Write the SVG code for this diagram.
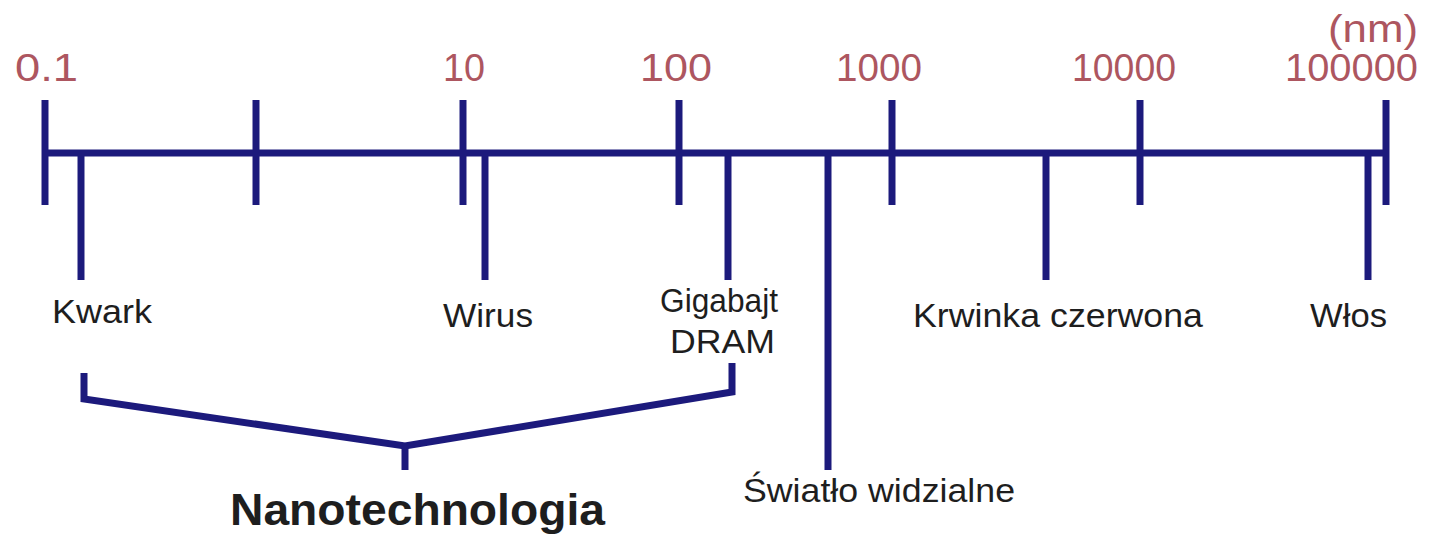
<svg xmlns="http://www.w3.org/2000/svg" width="1429" height="535" viewBox="0 0 1429 535">
  <style>
    .bar { stroke: #1c1a7c; stroke-width: 7; stroke-linecap: butt; fill: none; }
    .brace { stroke: #1c1a7c; stroke-width: 7; stroke-linejoin: miter; fill: none; }
    .num { font-family: "Liberation Sans", Arial, sans-serif; font-size: 39px; fill: #ad5660; }
    .lbl { font-family: "Liberation Sans", Arial, sans-serif; font-size: 34px; fill: #1e1e1e; }
    .big { font-family: "Liberation Sans", Arial, sans-serif; font-size: 45px; font-weight: bold; fill: #1e1e1e; }
  </style>
  <rect width="1429" height="535" fill="#ffffff"/>

  <!-- scale axis with decade ticks and item drops -->
  <g id="connectors">
    <line class="bar" x1="45" y1="153" x2="1386" y2="153"/>
    <line class="bar" x1="45" y1="100" x2="45" y2="205"/>
    <line class="bar" x1="256" y1="100" x2="256" y2="205"/>
    <line class="bar" x1="463" y1="100" x2="463" y2="205"/>
    <line class="bar" x1="679" y1="100" x2="679" y2="205"/>
    <line class="bar" x1="892" y1="100" x2="892" y2="205"/>
    <line class="bar" x1="1140" y1="100" x2="1140" y2="205"/>
    <line class="bar" x1="1386" y1="100" x2="1386" y2="205"/>
    <line class="bar" x1="81" y1="153" x2="81" y2="280"/>
    <line class="bar" x1="485" y1="153" x2="485" y2="280"/>
    <line class="bar" x1="728" y1="153" x2="728" y2="280"/>
    <line class="bar" x1="828" y1="153" x2="828" y2="470"/>
    <line class="bar" x1="1046" y1="153" x2="1046" y2="280"/>
    <line class="bar" x1="1368" y1="153" x2="1368" y2="280"/>
    <polyline class="brace" points="84,373 84,399 405,446 732,392 732,363"/>
    <line class="bar" x1="405" y1="446" x2="405" y2="470"/>
  </g>

  <g id="scale-values">
    <text class="num" x="15" y="81" textLength="63" lengthAdjust="spacingAndGlyphs">0.1</text>
    <text class="num" x="443" y="81" textLength="42" lengthAdjust="spacingAndGlyphs">10</text>
    <text class="num" x="640" y="81" textLength="72" lengthAdjust="spacingAndGlyphs">100</text>
    <text class="num" x="836" y="81" textLength="86" lengthAdjust="spacingAndGlyphs">1000</text>
    <text class="num" x="1072" y="81" textLength="104" lengthAdjust="spacingAndGlyphs">10000</text>
    <text class="num" x="1285" y="81" textLength="133" lengthAdjust="spacingAndGlyphs">100000</text>
    <text class="num" x="1328" y="42" textLength="90" lengthAdjust="spacingAndGlyphs">(nm)</text>
  </g>

  <g id="kwark"><text class="lbl" x="52" y="323" textLength="100" lengthAdjust="spacingAndGlyphs">Kwark</text></g>
  <g id="wirus"><text class="lbl" x="443" y="327" textLength="90" lengthAdjust="spacingAndGlyphs">Wirus</text></g>
  <g id="gigabajt-dram">
    <text class="lbl" x="660" y="312" textLength="118" lengthAdjust="spacingAndGlyphs">Gigabajt</text>
    <text class="lbl" x="670" y="353" textLength="105" lengthAdjust="spacingAndGlyphs">DRAM</text>
  </g>
  <g id="krwinka"><text class="lbl" x="913" y="327" textLength="290" lengthAdjust="spacingAndGlyphs">Krwinka czerwona</text></g>
  <g id="wlos"><text class="lbl" x="1310" y="327" textLength="77" lengthAdjust="spacingAndGlyphs">Włos</text></g>
  <g id="swiatlo"><text class="lbl" x="743" y="502" textLength="272" lengthAdjust="spacingAndGlyphs">Światło widzialne</text></g>
  <g id="nanotechnologia"><text class="big" x="230" y="525" textLength="375" lengthAdjust="spacingAndGlyphs">Nanotechnologia</text></g>
</svg>
